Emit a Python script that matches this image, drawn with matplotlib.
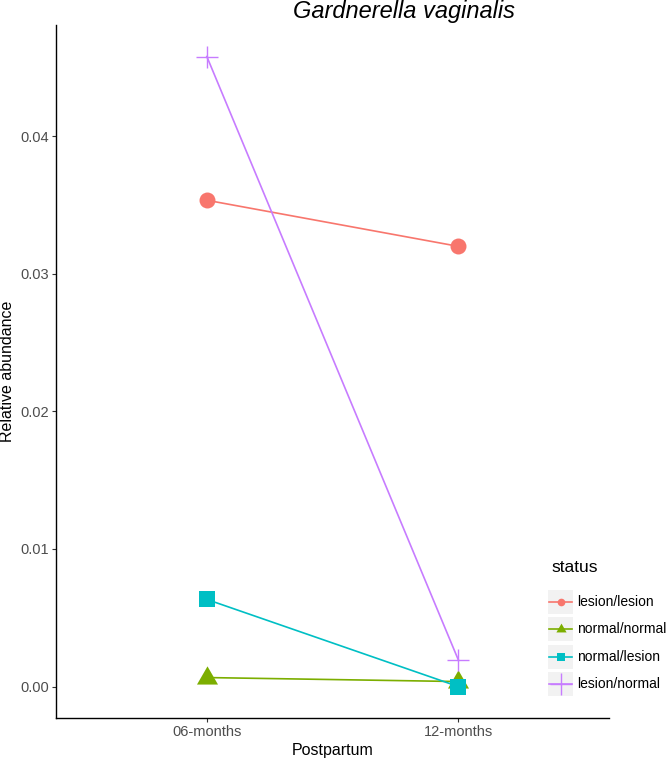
import matplotlib.pyplot as plt
from matplotlib.patches import Rectangle
from matplotlib.lines import Line2D

plt.rcParams['font.family'] = ['Liberation Sans', 'DejaVu Sans']

timepoints = ['06-months', '12-months']
status = ['lesion/lesion', 'normal/normal', 'normal/lesion', 'lesion/normal']
abundance = {
    'lesion/lesion': [0.03535, 0.0320],
    'normal/normal': [0.00065, 0.00036],
    'normal/lesion': [0.00633, 0.0000],
    'lesion/normal': [0.0458, 0.00196],
}
yticks = [0.00, 0.01, 0.02, 0.03, 0.04]

colors = ['#F8766D', '#7CAE00', '#00BFC4', '#C77CFF']
# equilateral triangle like ggplot shape 17
tri = [(-1, -0.577), (1, -0.577), (0, 1.155), (-1, -0.577)]
markers = ['o', tri, 's', '+']
msizes = [11.5, 17.5, 11.5, 16.5]
leg_sizes = [5.5, 8.5, 6, 16]

W, H = 666, 761
fig = plt.figure(figsize=(W / 100, H / 100), dpi=100)
ax = fig.add_axes([56 / W, 1 - 718 / H, (609 - 56) / W, (718 - 25) / H])

x = list(range(len(timepoints)))
for i, s in enumerate(status):
    mew = 1.0 if markers[i] == '+' else 0
    ax.plot(x, abundance[s], color=colors[i], lw=1.2, marker=markers[i],
            markersize=msizes[i], markeredgewidth=mew, markeredgecolor=colors[i],
            zorder=3)

ymax = max(max(v) for v in abundance.values())
ymin = min(min(v) for v in abundance.values())
pad = (ymax - ymin) * 0.05
ax.set_ylim(ymin - pad, ymax + pad)
ax.set_xlim(-0.6, 1.6)
ax.set_xticks(x)
ax.set_xticklabels(timepoints)
ax.set_yticks(yticks)
ax.set_yticklabels([f'{t:.2f}' for t in yticks])

for side in ['top', 'right']:
    ax.spines[side].set_visible(False)
for side in ['left', 'bottom']:
    ax.spines[side].set_linewidth(1.0)
    ax.spines[side].set_color('black')
ax.tick_params(axis='both', colors='#333333', labelcolor='#4D4D4D',
               labelsize=10.5, length=3, width=0.8, pad=2)

ax.set_xlabel('Postpartum', fontsize=11.5, labelpad=3)
ax.set_ylabel('Relative abundance', fontsize=11.5)
ax.yaxis.set_label_coords(-0.075, 0.5)
fig.text(404 / W, 1 - 18 / H, 'Gardnerella vaginalis', style='italic',
         fontsize=17, ha='center', va='baseline')

# legend
lax = fig.add_axes([0, 0, 1, 1])
lax.set_xlim(0, W)
lax.set_ylim(H, 0)
lax.axis('off')
lax.text(551, 568, 'status', fontsize=12.5, va='center', ha='left')
rows = [602, 629, 657, 684]
for i, s in enumerate(status):
    cy = rows[i]
    lax.add_patch(Rectangle((548, cy - 12), 25, 24, facecolor='#F2F2F2',
                            edgecolor='none'))
    mew = 1.0 if markers[i] == '+' else 0
    lax.add_line(Line2D([549, 572], [cy, cy], color=colors[i], lw=1.2))
    lax.plot([560.5], [cy], marker=markers[i], color=colors[i],
             markersize=leg_sizes[i], markeredgewidth=mew,
             markeredgecolor=colors[i])
    lax.text(577, cy, s, fontsize=10, va='center', ha='left')

fig.savefig('out.png', dpi=100)
